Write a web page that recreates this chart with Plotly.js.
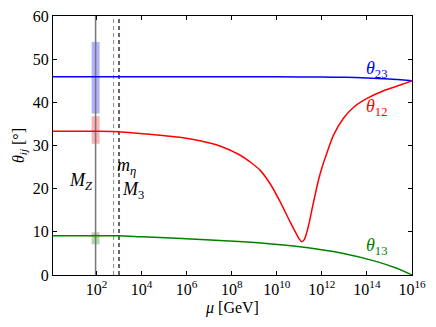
<!DOCTYPE html>
<html>
<head>
<meta charset="utf-8">
<script src="https://cdn.plot.ly/plotly-3.0.1.min.js"></script>
<style>
  html, body { margin: 0; padding: 0; background: #fff; }
  #myPlot { width: 436px; height: 327px; }
</style>
</head>
<body>
<div id="myPlot"></div>
<script>
// Running mixing angles vs scale mu (GeV)

// theta_23
const muBlue = [1.17, 1e4, 1e8, 1e10, 1e12, 1e13, 1e14, 1e15, 1e16];
const theta23 = [45.9, 45.9, 45.9, 45.9, 45.85, 45.8, 45.65, 45.4, 45.0];

// theta_12 (dip near 10^11 GeV)
const muRed = [1.17, 10, 1e2, 1e3, 8.3e3, 6.5e4, 5.0e5, 3.9e6, 3.0e7, 2.3e8, 6.5e8,
               1.8e9, 5.0e9, 1.4e10, 3.9e10, 7.8e10, 1e11, 1.3e11, 1.66e11, 2.1e11,
               2.8e11, 3.6e11, 5.0e11, 7.1e11, 1e12, 1.66e12, 3.3e12, 9.1e12, 2.5e13,
               1e14, 5.5e14, 3.0e15, 1e16];
const theta12 = [33.3, 33.3, 33.3, 33.2, 32.8, 32.4, 31.9, 31.1, 29.9, 27.8, 26.2,
                 24.3, 21.2, 17.0, 12.3, 9.3, 8.3, 7.7, 8.2, 9.7,
                 12.3, 15.1, 18.5, 22.0, 24.8, 28.2, 32.4, 36.3, 38.8,
                 40.9, 42.7, 44.0, 45.0];

// theta_13
const muGreen = [1.17, 1e2, 1e3, 1e4, 3.6e5, 3.3e8, 5.5e10, 9.1e12, 2.75e14, 2.1e15, 1e16];
const theta13 = [9.1, 9.1, 9.1, 8.85, 8.5, 7.7, 6.7, 5.0, 3.1, 1.55, 0.0];

// experimental ranges at M_Z
const mZ = 91.19;
const bandLow = [37.4, 30.4, 7.1];   // theta23, theta12, theta13
const bandHigh = [54.0, 36.8, 9.9];

// thresholds
const mEta = 575;
const m3 = 1000;

const tickVals = [1e2, 1e4, 1e6, 1e8, 1e10, 1e12, 1e14, 1e16];
const tickText = ['10<sup>2</sup>', '10<sup>4</sup>', '10<sup>6</sup>', '10<sup>8</sup>',
                  '10<sup>10</sup>', '10<sup>12</sup>', '10<sup>14</sup>', '10<sup>16</sup>'];

const blue = '#0000ff', red = '#ff0000', green = '#008000';
const bandColors = ['rgba(0,0,255,0.3)', 'rgba(255,0,0,0.3)', 'rgba(0,128,0,0.3)'];

const data = [];

// shaded bands
bandLow.forEach((lo, i) => {
    data.push({
        x: [mZ, mZ], y: [lo, bandHigh[i]],
        type: 'scatter', mode: 'lines',
        line: { color: bandColors[i], width: 8 },
        hoverinfo: 'skip'
    });
});

// vertical marker lines
data.push({ x: [mZ, mZ], y: [0, 60], type: 'scatter', mode: 'lines',
            line: { color: '#777777', width: 1.5 } });
data.push({ x: [mEta, mEta], y: [0, 60], type: 'scatter', mode: 'lines',
            line: { color: '#888888', width: 1, dash: '4px,3px' } });
data.push({ x: [m3, m3], y: [0, 60], type: 'scatter', mode: 'lines',
            line: { color: '#666666', width: 2, dash: '4px,3px' } });

// curves
data.push({ x: muBlue, y: theta23, type: 'scatter', mode: 'lines',
            line: { color: blue, width: 1.5, shape: 'spline', smoothing: 0.6 } });
data.push({ x: muRed, y: theta12, type: 'scatter', mode: 'lines',
            line: { color: red, width: 1.5, shape: 'spline', smoothing: 0.8 } });
data.push({ x: muGreen, y: theta13, type: 'scatter', mode: 'lines',
            line: { color: green, width: 1.5, shape: 'spline', smoothing: 0.6 } });

const font = { family: 'Liberation Serif, DejaVu Serif, serif', size: 16, color: '#000' };

function label(text, lx, y, color) {
    return { text: text, x: lx, y: y, xref: 'x', yref: 'y', showarrow: false,
             font: { family: font.family, size: 18, color: color } };
}

const layout = {
    width: 436, height: 327,
    margin: { l: 53, r: 24, t: 16, b: 52 },
    paper_bgcolor: '#fff', plot_bgcolor: '#fff',
    showlegend: false,
    font: font,
    xaxis: {
        type: 'log', range: [0.07, 16],
        tickvals: tickVals, ticktext: tickText,
        ticks: 'inside', ticklen: 4, tickcolor: '#000',
        showline: true, linecolor: '#000', linewidth: 1, mirror: 'ticks',
        showgrid: false, zeroline: false,
        title: { text: '<i>μ</i> [GeV]', font: { family: font.family, size: 16 }, standoff: 4 }
    },
    yaxis: {
        range: [0, 60], dtick: 10,
        ticks: 'inside', ticklen: 4, tickcolor: '#000',
        showline: true, linecolor: '#000', linewidth: 1, mirror: 'ticks',
        showgrid: false, zeroline: false,
        title: { text: '<i>θ</i><sub><i>ij</i></sub> [°]', font: { family: font.family, size: 16 }, standoff: 4 }
    },
    annotations: [
        label('<i>θ</i><sub>23</sub>', 14.41, 47.7, blue),
        label('<i>θ</i><sub>12</sub>', 14.41, 38.7, red),
        label('<i>θ</i><sub>13</sub>', 14.44, 6.5, green),
        label('<i>M</i><sub><i>Z</i></sub>', 1.33, 21.6, '#000'),
        label('<i>m</i><sub><i>η</i></sub>', 3.35, 25.1, '#000'),
        label('<i>M</i><sub>3</sub>', 3.6, 19.5, '#000')
    ]
};

Plotly.newPlot('myPlot', data, layout, { displayModeBar: false, staticPlot: true });
</script>
</body>
</html>
